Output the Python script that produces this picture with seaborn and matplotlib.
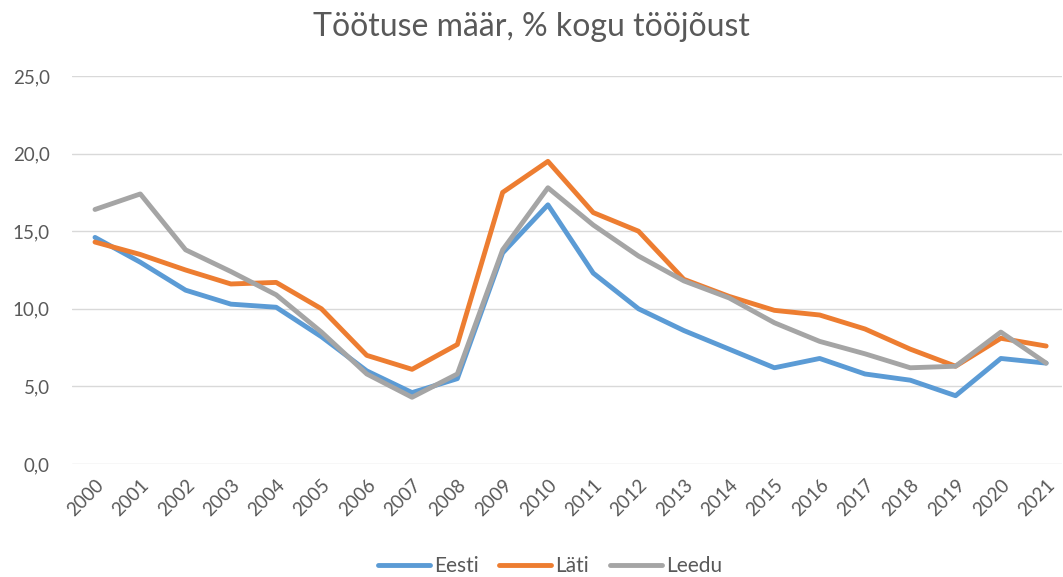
import matplotlib
matplotlib.use("Agg")
import matplotlib.pyplot as plt
import seaborn as sns
import pandas as pd
from matplotlib.lines import Line2D

years = [str(y) for y in range(2000, 2022)]
eesti = [14.6, 13.0, 11.2, 10.3, 10.1, 8.2, 6.0, 4.6, 5.5, 13.6, 16.7, 12.3, 10.0, 8.6, 7.4, 6.2, 6.8, 5.8, 5.4, 4.4, 6.8, 6.5]
lati = [14.3, 13.5, 12.5, 11.6, 11.7, 10.0, 7.0, 6.1, 7.7, 17.5, 19.5, 16.2, 15.0, 11.9, 10.8, 9.9, 9.6, 8.7, 7.4, 6.3, 8.1, 7.6]
leedu = [16.4, 17.4, 13.8, 12.4, 10.9, 8.5, 5.8, 4.3, 5.8, 13.8, 17.8, 15.4, 13.4, 11.8, 10.7, 9.1, 7.9, 7.1, 6.2, 6.3, 8.5, 6.5]
series_names = ["Eesti", "Läti", "Leedu"]
colors = ["#5B9BD5", "#ED7D31", "#A5A5A5"]
yticks = [0, 5, 10, 15, 20, 25]
title = "Töötuse määr, % kogu tööjõust"

rows = []
for name, vals in zip(series_names, [eesti, lati, leedu]):
    for i, v in enumerate(vals):
        rows.append({"idx": i, "year": years[i], "value": v, "series": name})
df = pd.DataFrame(rows)

sns.set_theme(style="white")
plt.rcParams["font.family"] = ["Lato", "DejaVu Sans"]

fig = plt.figure(figsize=(10.63, 5.77), dpi=100)
ax = fig.add_axes([72 / 1063, (577 - 464) / 577, (1062 - 72) / 1063, (464 - 76) / 577])

sns.lineplot(data=df, x="idx", y="value", hue="series", hue_order=series_names,
             palette=colors, linewidth=3.5, sort=False, ax=ax, legend=False)
for ln in ax.lines:
    ln.set_solid_capstyle("round")
    ln.set_solid_joinstyle("round")
    ln.set_clip_on(False)

ax.set_xlim(-0.508, 21.35)
ax.set_ylim(0, 25)
ax.set_yticks(yticks)
ax.set_yticklabels([f"{t:.1f}".replace(".", ",") for t in yticks])
ax.set_xticks(range(len(years)))
ax.set_xticklabels(years, rotation=45, ha="right", rotation_mode="anchor")
ax.tick_params(axis="both", length=0, colors="#595959", labelsize=13.5)
ax.tick_params(axis="y", pad=16)
ax.tick_params(axis="x", pad=9)
ax.grid(axis="y", color="#D9D9D9", linewidth=1.0)
ax.grid(axis="x", visible=False)
ax.set_axisbelow(True)
for s in ax.spines.values():
    s.set_visible(False)
ax.set_xlabel("")
ax.set_ylabel("")

fig.text(0.5, 1 - 27 / 577, title, ha="center", va="center", fontsize=23, color="#595959")

handles = [Line2D([], [], color=c, linewidth=3.5, solid_capstyle="round") for c in colors]
fig.legend(handles, series_names, loc="center", bbox_to_anchor=(550 / 1063, 1 - 566 / 577), ncol=3,
           frameon=False, fontsize=15, labelcolor="#595959", handlelength=2.5,
           handletextpad=0.2, columnspacing=1.0)

fig.savefig("out.png", dpi=100, facecolor="white")
